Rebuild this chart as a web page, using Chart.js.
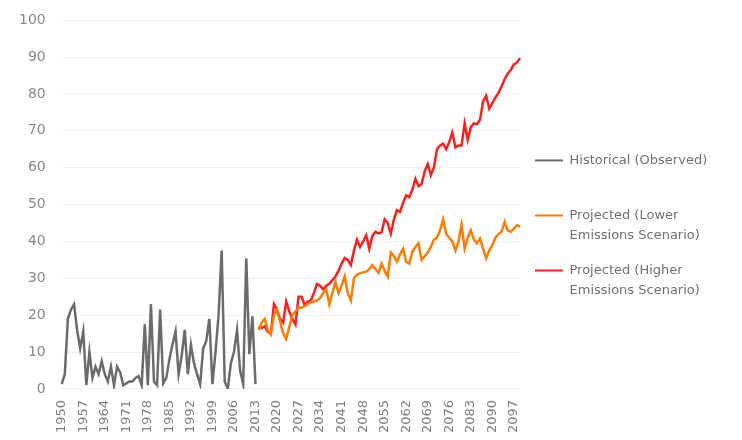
<!DOCTYPE html>
<html>
<head>
<meta charset="utf-8">
<script src="https://cdn.jsdelivr.net/npm/chart.js@4/dist/chart.umd.min.js"></script>
<style>
  body { margin: 0; background: #fff; }
  #wrap { width: 742px; height: 440px; }
</style>
</head>
<body>
<div id="wrap"><canvas id="chart" width="742" height="440"></canvas></div>
<script>
// years on the x axis
var firstYear = 1950, lastYear = 2099;
var projStart = 2014;

// observed values 1950-2013
var historical = [
    1.3, 4, 19, 21.5, 23, 16, 11, 15.6, 1, 10,
    3, 6, 4, 7.5, 4, 2, 6, 1, 6, 4.5,
    1, 1.5, 2, 2, 3, 3.5, 1, 17.5, 1, 23,
    2, 1, 21.5, 1.5, 3, 8, 12, 15.6, 4, 9,
    16, 4, 12, 7, 4, 1.3, 11, 13, 19, 1.3,
    10, 20, 37.5, 2, 0, 7, 10, 16, 5, 1.3,
    35.4, 9.4, 19.7, 1.3
];

// projections 2014-2099
var lowerEmissions = [
    16, 18, 19, 16, 14.8, 20, 21.5, 18.3, 15, 13.5,
    17, 20, 21, 22, 22, 22.5, 23, 23.5, 23.7, 24,
    24.6, 26, 27, 23, 26, 29, 26, 28, 30.5, 26,
    24, 30, 31, 31.4, 31.6, 31.8, 32.5, 33.6, 32.5, 31.5,
    34, 32, 30.5, 37, 36, 34.5, 36.5, 38, 34.5, 34,
    37.2, 38.5, 39.5, 35, 36, 37, 38.5, 40.5, 41, 43,
    46, 42, 41, 40, 37.5, 40, 44.5, 38, 41, 43,
    40.5, 39.5, 40.8, 38, 35.4, 37.5, 39, 41, 42, 42.6,
    45.3, 43, 42.6, 43.5, 44.4, 44
];
var higherEmissions = [
    17, 16.5, 17, 15.5, 15, 23, 21.5, 19, 18, 23.7,
    21, 19, 17.5, 25, 25, 22.8, 23.7, 24, 26, 28.5,
    28, 27, 28, 28.5, 29.5, 30.5, 32, 34, 35.5, 35,
    33.6, 37.5, 40.5, 38.5, 40, 41.7, 38, 41.5, 42.6, 42.2,
    42.5, 46, 45, 42.1, 46, 48.5, 48, 50.5, 52.5, 52,
    54, 57, 55, 55.5, 59, 61, 58, 60, 65, 66,
    66.5, 65, 67, 69.5, 65.5, 66, 66, 72, 67.5, 71,
    72, 71.8, 73, 78, 79.5, 76, 77.5, 79, 80.3, 82,
    84, 85.5, 86.5, 88, 88.5, 89.8
];

// legend lines (blank second line keeps the rows evenly spaced)
var legendText = [
    ['Historical (Observed)', ''],
    ['Projected (Lower', 'Emissions Scenario)'],
    ['Projected (Higher', 'Emissions Scenario)']
];

var years = [];
for (var y = firstYear; y <= lastYear; y++) years.push(String(y));

function padSeries(values, startYear) {
    var out = [];
    for (var y = firstYear; y <= lastYear; y++) {
        var i = y - startYear;
        out.push(i >= 0 && i < values.length ? values[i] : null);
    }
    return out;
}

// legend box gets a fixed width so the two-line labels fit
var legendWidth = {
    id: 'legendWidth',
    beforeInit: function (chart) {
        var fit = chart.legend.fit;
        chart.legend.fit = function () {
            fit.call(this);
            this.width = 222;
        };
    }
};

var ctx = document.getElementById('chart').getContext('2d');
var chart = new Chart(ctx, {
    type: 'line',
    data: {
        labels: years,
        datasets: [{
            label: 'Historical (Observed)',
            data: padSeries(historical, firstYear),
            borderColor: '#6b6b6b',
            borderWidth: 2.5
        }, {
            label: 'Projected (Lower Emissions Scenario)',
            data: padSeries(lowerEmissions, projStart),
            borderColor: '#ff7c00',
            borderWidth: 2.5
        }, {
            label: 'Projected (Higher Emissions Scenario)',
            data: padSeries(higherEmissions, projStart),
            borderColor: '#ff1f1f',
            borderWidth: 2.5
        }]
    },
    options: {
        responsive: false,
        animation: false,
        elements: {
            point: { radius: 0 },
            line: { tension: 0 }
        },
        layout: { padding: { top: 0, bottom: 4, left: 3, right: 0 } },
        plugins: {
            tooltip: { enabled: false },
            legend: {
                position: 'right',
                align: 'center',
                // empty title only pushes the items down a little
                title: {
                    display: true,
                    text: '',
                    padding: { top: 11, bottom: 10 },
                    font: { size: 1, lineHeight: 1 }
                },
                labels: {
                    usePointStyle: true,
                    pointStyle: 'line',
                    pointStyleWidth: 28,
                    boxHeight: 2,
                    padding: 15,
                    color: '#707070',
                    font: { family: 'DejaVu Sans', size: 13, lineHeight: 1.54 },
                    generateLabels: function (chart) {
                        var items = Chart.defaults.plugins.legend.labels.generateLabels(chart);
                        items.forEach(function (it, i) {
                            it.text = legendText[i];
                            it.lineWidth = 2;
                        });
                        return items;
                    }
                }
            }
        },
        scales: {
            x: {
                grid: { display: false },
                border: { display: false },
                ticks: {
                    autoSkip: false,
                    maxRotation: 90,
                    minRotation: 90,
                    color: '#808080',
                    font: { family: 'DejaVu Sans', size: 13 },
                    callback: function (val, index) {
                        return index % 7 === 0 ? years[index] : '';
                    }
                }
            },
            y: {
                min: 0,
                max: 100,
                border: { display: false },
                grid: { color: '#f2f2f2', drawTicks: false },
                ticks: {
                    stepSize: 10,
                    padding: 16,
                    color: '#888',
                    font: { family: 'DejaVu Sans', size: 14, lineHeight: 0.6 }
                }
            }
        }
    },
    plugins: [legendWidth]
});
</script>
</body>
</html>
